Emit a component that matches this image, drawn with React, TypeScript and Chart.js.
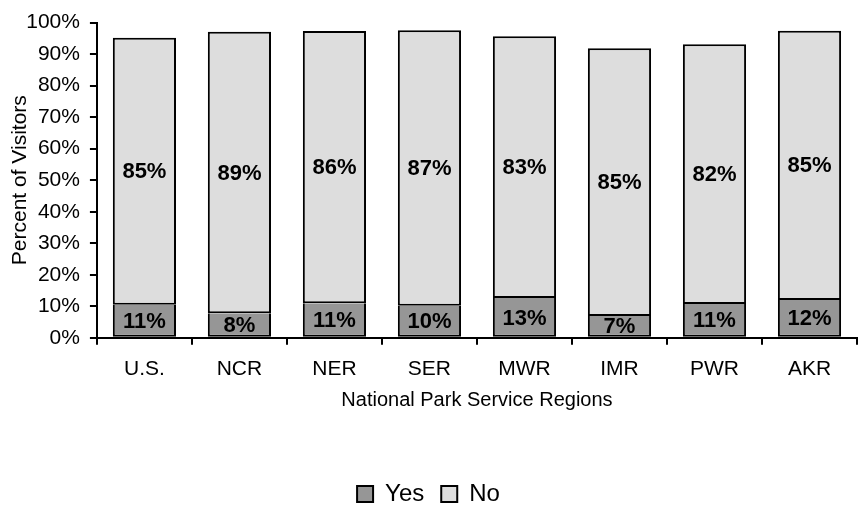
import React, { useEffect, useRef } from "react";
import { Chart, registerables } from "chart.js";

Chart.register(...registerables);

const categories = ["U.S.", "NCR", "NER", "SER", "MWR", "IMR", "PWR", "AKR"];
const yesValues = [10.5, 7.8, 11.0, 10.2, 12.6, 6.9, 10.7, 12.0];
const noValues = [84.7, 89.3, 86.3, 87.4, 83.1, 85.0, 82.4, 85.4];
const seriesNames = ["Yes", "No"];
const yTickMax = 100;
const yTickStep = 10;

const FONT = "'Liberation Sans', Arial, Helvetica, sans-serif";

const segmentLabels = {
  id: "segmentLabels",
  afterDatasetsDraw(chart: any) {
    const ctx = chart.ctx;
    ctx.save();
    ctx.font = `bold 22px ${FONT}`;
    ctx.fillStyle = "#000";
    ctx.textAlign = "center";
    ctx.textBaseline = "middle";
    chart.data.datasets.forEach((ds: any, di: number) => {
      const meta = chart.getDatasetMeta(di);
      meta.data.forEach((el: any, i: number) => {
        const v = ds.data[i];
        const cy = (el.y + el.base) / 2;
        ctx.fillText(Math.round(v) + "%", el.x, cy + 1);
      });
    });
    ctx.restore();
  },
};

export default function App() {
  const ref = useRef<HTMLCanvasElement | null>(null);
  useEffect(() => {
    if (!ref.current) return;
    const chart = new Chart(ref.current, {
      type: "bar",
      data: {
        labels: categories,
        datasets: [
          {
            label: seriesNames[0],
            data: yesValues,
            backgroundColor: "#969696",
            borderColor: "#000",
            borderWidth: 2,
            borderSkipped: "top",
            barPercentage: 0.665,
            categoryPercentage: 1,
          },
          {
            label: seriesNames[1],
            data: noValues,
            backgroundColor: "#DDDDDD",
            borderColor: "#000",
            borderWidth: 2,
            borderSkipped: false,
            barPercentage: 0.665,
            categoryPercentage: 1,
          },
        ],
      },
      options: {
        animation: false,
        responsive: false,
        maintainAspectRatio: false,
        layout: { padding: { top: 16, right: 2, bottom: -6, left: 0 } },
        plugins: {
          tooltip: { enabled: false },
          legend: {
            position: "bottom",
            labels: {
              boxWidth: 16,
              boxHeight: 16,
              padding: 17,
              color: "#000",
              font: { family: FONT, size: 24 },
            },
          },
        },
        scales: {
          x: {
            stacked: true,
            grid: {
              display: true,
              drawOnChartArea: false,
              drawTicks: true,
              tickLength: 7,
              color: "#000",
              lineWidth: 2,
              offset: true,
            },
            border: { display: true, color: "#000", width: 2 },
            ticks: {
              color: "#000",
              padding: 12,
              font: { family: FONT, size: 21 },
              maxRotation: 0,
            },
            title: {
              display: true,
              text: "National Park Service Regions",
              color: "#000",
              font: { family: FONT, size: 20 },
              padding: { top: -6, bottom: 53 },
            },
          },
          y: {
            stacked: true,
            min: 0,
            max: yTickMax,
            grid: {
              display: true,
              drawOnChartArea: false,
              drawTicks: true,
              tickLength: 7,
              color: "#000",
              lineWidth: 2,
            },
            border: { display: true, color: "#000", width: 2 },
            ticks: {
              stepSize: yTickStep,
              color: "#000",
              padding: 10,
              font: { family: FONT, size: 21 },
              callback: (v: any) => v + "%",
            },
            title: {
              display: true,
              text: "Percent of Visitors",
              color: "#000",
              font: { family: FONT, size: 21 },
              padding: { top: 8, bottom: -17 },
            },
          },
        },
      },
      plugins: [segmentLabels],
    });
    return () => chart.destroy();
  }, []);
  return (
    <div style={{ position: "fixed", left: 0, top: 0, width: 859, height: 510, background: "#fff" }}>
      <canvas ref={ref} width={859} height={510} style={{ display: "block" }} />
    </div>
  );
}
